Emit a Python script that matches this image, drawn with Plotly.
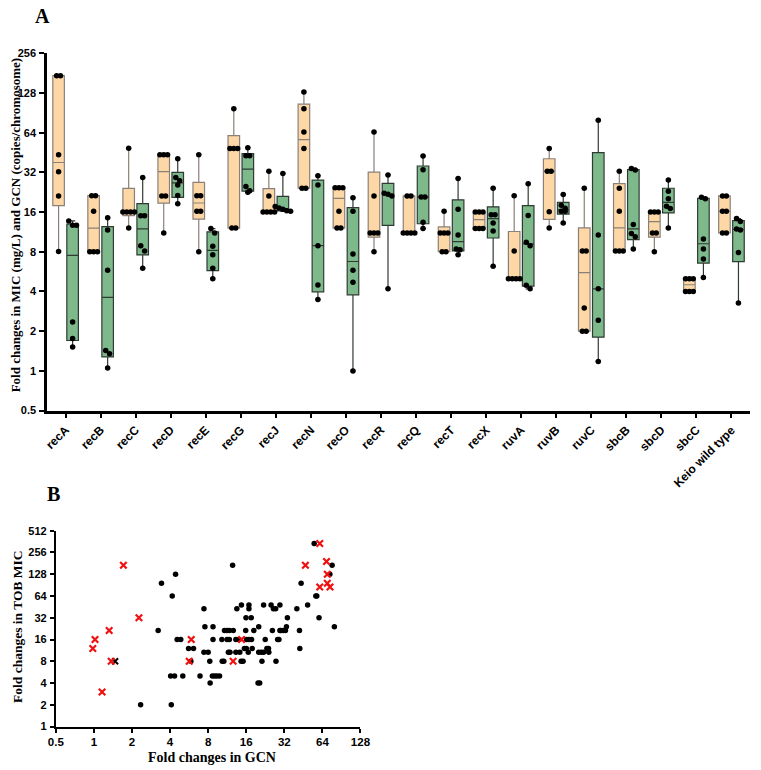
import numpy as np
import plotly.graph_objects as go

# ---------------- Panel A data ----------------
genes = ["recA", "recB", "recC", "recD", "recE", "recG", "recJ", "recN", "recO", "recR",
         "recQ", "recT", "recX", "ruvA", "ruvB", "ruvC", "sbcB", "sbcD", "sbcC", "Keio wild type"]

mic_fold = [
    [173, 173, 43.6, 32.4, 21.2, 8.05],      # recA
    [21.3, 21.3, 16.2, 8, 8, 8],             # recB
    [48.8, 16, 16, 16, 16, 12.1],            # recC
    [43.6, 43.6, 43.6, 21.2, 21.2, 11.1],    # recD
    [43.6, 21.3, 21.3, 16.2, 16.2, 8],       # recE
    [97, 48.6, 48.6, 48.6, 12.1, 12.1],      # recG
    [32.6, 21.2, 16, 16, 16, 16],            # recJ
    [130, 97, 64.8, 48.6, 24.3, 24.3],       # recN
    [24.5, 24.5, 24.5, 16.2, 12.1, 12.1],    # recO
    [64.8, 21.2, 11.1, 11.1, 11.1, 8],       # recR
    [21.2, 21.2, 11.1, 11.1, 11.1, 11.1],    # recQ
    [16.2, 11.1, 11.1, 11.1, 8, 8],          # recT
    [16, 16, 16, 12, 12, 12],                # recX
    [21.3, 8.1, 5, 5, 5, 5],                 # ruvA
    [48.6, 32.6, 32.6, 16.1, 12.1],          # ruvB
    [24.3, 8.1, 8.1, 3.0, 2, 2],             # ruvC
    [32.6, 24.2, 16.2, 8.1, 8.1, 8.1],       # sbcB
    [16, 16, 16, 11.1, 11.1, 8],             # sbcD
    [5, 5, 5, 4, 4, 4],                      # sbcC
    [21.2, 21.2, 16.2, 16.2, 11.1, 11.1],    # Keio wild type
]

gcn_fold = [
    [13.7, 12.7, 12.7, 2.35, 1.76, 1.52],    # recA
    [14.5, 11.7, 5.8, 1.43, 1.35, 1.05],     # recB
    [29.2, 15, 15, 8.9, 8.1, 6.0],           # recC
    [40.5, 29.2, 27.6, 25.7, 21.4, 18.5],    # recD
    [12, 11.1, 8.8, 7.6, 6, 5],              # recE
    [49.2, 42.8, 42.8, 25, 23.2, 22.6],      # recG
    [31.4, 17.6, 17.2, 16.8, 16.4, 16.2],    # recJ
    [30.2, 25.7, 8.9, 4.48, 3.47],           # recN
    [20.5, 16.2, 7.7, 5.8, 4.7, 1.0],        # recO
    [30.6, 22.2, 21.8, 21.2, 4.2],           # recR
    [42.6, 33.5, 20.8, 20.8, 13.4, 12.0],    # recQ
    [28.8, 16.8, 10.7, 8.4, 8.3, 7.6],       # recT
    [24.2, 15.3, 15.3, 13.2, 11.5, 6.2],     # recX
    [26.2, 15.1, 9.45, 8.9, 4.46, 4.19],     # ruvA
    [21.7, 18, 17.1, 16.2, 16.2, 13.2],      # ruvB
    [79.6, 10.7, 4.19, 2.42, 1.18],          # ruvC
    [34.3, 33.3, 12.9, 11.0, 10.4, 8.4],     # sbcB
    [28, 23, 20.2, 17.7, 17, 12.1],          # sbcD
    [20.7, 20.2, 10, 8.4, 7.05, 5.1],        # sbcC
    [14.3, 13.6, 11.9, 11.7, 7.9, 3.27],     # Keio wild type
]

y_ticks_a = [0.5, 1, 2, 4, 8, 16, 32, 64, 128, 256]

# ---------------- Panel B data ----------------
black_gcn = [55.1,
             12.49, 76.4,
             4.42, 73.3,
             3.42, 43.45,
             4.16, 56.8, 57.8,
             14.66, 16.81, 21.95, 25.16, 29.54, 48.9,
             7.41, 13.49, 16.81, 26.23, 27.34, 40.2,
             15.93, 17.52, 33.85, 60.2,
             7.54, 8.74, 20.08, 33.26, 79.6,
             3.22, 10.77, 11.29, 11.77, 12.64, 15.84, 18.37, 25.76, 29.54, 30.06, 31.34, 32.67, 42.17,
             4.55, 4.86, 8.74, 10.27, 11.29, 11.77, 13.25, 14.07, 16.12, 16.81, 17.62, 22.61, 28.34, 29.02,
             5.6, 6.13, 15.47, 16.03, 17.83, 23.3, 24.0, 42.43,
             7.41, 8.0, 11.56, 11.91, 13.25, 14.23, 16.6, 20.08, 21.06, 21.95, 24.14,
             5.84, 8.24, 10.33, 10.64, 14.57, 15.11, 21.3, 27.5,
             4.04, 4.34, 5.04, 6.9, 8.64, 9.0, 9.39, 9.85,
             8.29, 19.84, 20.44,
             2.34, 4.09]
black_mic = [341,
             170.7, 170.7,
             128, 128,
             96, 96,
             64, 64, 64,
             48, 48, 48, 48, 48, 48,
             42.7, 42.7, 42.7, 42.7, 42.7, 42.7,
             32, 32, 32, 32,
             24, 24, 24, 24, 24,
             21.3, 21.3, 21.3, 21.3, 21.3, 21.3, 21.3, 21.3, 21.3, 21.3, 21.3, 21.3, 21.3,
             16, 16, 16, 16, 16, 16, 16, 16, 16, 16, 16, 16, 16, 16,
             12, 12, 12, 12, 12, 12, 12, 12,
             10.7, 10.7, 10.7, 10.7, 10.7, 10.7, 10.7, 10.7, 10.7, 10.7, 10.7,
             8, 8, 8, 8, 8, 8, 8, 8,
             5, 5, 5, 5, 5, 5, 5, 5,
             4, 4, 4,
             2, 2]

red_gcn = [0.98, 1.02, 1.16, 1.32, 1.37, 1.71, 2.27, 5.67, 5.88, 12.6, 14.7,
           47, 61, 61, 69, 70, 70, 73.5]
red_mic = [12, 16, 3, 21.3, 8, 170.7, 32, 8, 16, 8, 16,
           170.7, 341, 85.3, 192, 128, 96, 85.3]

blackx_gcn = [1.47]
blackx_mic = [8]

x_ticks_b = [0.5, 1, 2, 4, 8, 16, 32, 64, 128]
y_ticks_b = [1, 2, 4, 8, 16, 32, 64, 128, 256, 512]

# ---------------- helpers ----------------
def box_stats(vals):
    v = np.sort(np.asarray(vals, dtype=float))
    q1, med, q3 = np.percentile(v, [25, 50, 75], method="weibull")
    return q1, med, q3, v.min(), v.max()


def swarm(vals, center, step=0.11, tol=0.14):
    lv = np.log2(np.asarray(vals, dtype=float))
    order = np.argsort(-lv)
    xs = np.zeros(len(vals))
    clusters = []
    for i in order:
        if clusters and abs(lv[clusters[-1][0]] - lv[i]) < tol:
            clusters[-1].append(i)
        else:
            clusters.append([i])
    for c in clusters:
        k = len(c)
        for j, i in enumerate(c):
            xs[i] = center + (j - (k - 1) / 2) * step
    return xs


fig = go.Figure()

OFF = 0.2
BW = 0.33
series = [(mic_fold, -OFF, "#FDD8A6", "#8a8078"), (gcn_fold, OFF, "#7DB98B", "#2f3a32")]
for data, off, fill, lc in series:
    stats = [box_stats(v) for v in data]
    fig.add_trace(go.Box(
        x=[i + off for i in range(len(genes))],
        q1=[s[0] for s in stats], median=[s[1] for s in stats], q3=[s[2] for s in stats],
        lowerfence=[s[3] for s in stats], upperfence=[s[4] for s in stats],
        width=BW, fillcolor=fill, line=dict(color=lc, width=1.2), whiskerwidth=0.45,
        boxpoints=False, hoverinfo="skip", xaxis="x", yaxis="y"))

px_all, py_all = [], []
for data, off, _, _ in series:
    for i, vals in enumerate(data):
        xs = swarm(vals, i + off)
        px_all.extend(xs.tolist())
        py_all.extend(vals)
fig.add_trace(go.Scatter(x=px_all, y=py_all, mode="markers",
                         marker=dict(color="black", size=5.5),
                         xaxis="x", yaxis="y", hoverinfo="skip"))

# Panel B
fig.add_trace(go.Scatter(x=black_gcn, y=black_mic, mode="markers",
                         marker=dict(color="black", size=5.5),
                         xaxis="x2", yaxis="y2"))
fig.add_trace(go.Scatter(x=blackx_gcn, y=blackx_mic, mode="markers",
                         marker=dict(color="black", size=6, symbol="x-thin", line=dict(width=2, color="black")),
                         xaxis="x2", yaxis="y2"))
fig.add_trace(go.Scatter(x=red_gcn, y=red_mic, mode="markers",
                         marker=dict(color="#F01010", size=6.5, symbol="x-thin",
                                     line=dict(width=2.2, color="#F01010")),
                         xaxis="x2", yaxis="y2"))

W, H = 761, 770
sans = "Liberation Sans"
serif = "Liberation Serif"

def fmt(v):
    return str(v) if v < 1 else str(int(v))

axis_common = dict(showline=True, linecolor="black", ticks="outside", tickcolor="black",
                   showgrid=False, zeroline=False, mirror=False)

fig.update_layout(
    width=W, height=H, margin=dict(l=0, r=0, t=0, b=0),
    paper_bgcolor="white", plot_bgcolor="white", showlegend=False, boxmode="overlay",
    xaxis=dict(domain=[40 / W, 760 / W], range=[-0.529, 19.53], anchor="y",
               tickvals=list(range(len(genes))), ticktext=genes, tickangle=-45,
               linewidth=2.5, ticklen=5, tickwidth=2,
               tickfont=dict(family=sans, size=12, color="black", weight="bold"), **axis_common),
    yaxis=dict(domain=[1 - 411 / H, 1 - 48 / H], type="log", anchor="x",
               range=[np.log10(0.5), np.log10(256)],
               tickvals=y_ticks_a, ticktext=[fmt(v) for v in y_ticks_a],
               linewidth=2.5, ticklen=5, tickwidth=2, ticklabelstandoff=1,
               tickfont=dict(family=sans, size=11, color="black", weight="bold"), **axis_common),
    xaxis2=dict(domain=[49 / W, 361 / W], type="log", anchor="y2",
                range=[np.log10(0.5), np.log10(128)],
                tickvals=x_ticks_b, ticktext=[fmt(v) for v in x_ticks_b],
                linewidth=2, ticklen=4, tickwidth=1.5,
                tickfont=dict(family=sans, size=11.5, color="black", weight="bold"), **axis_common),
    yaxis2=dict(domain=[1 - 732 / H, 1 - 533 / H], type="log", anchor="x2",
                range=[0, np.log10(512)],
                tickvals=y_ticks_b, ticktext=[fmt(v) for v in y_ticks_b],
                linewidth=2, ticklen=4, tickwidth=1.5, ticklabelstandoff=1,
                tickfont=dict(family=sans, size=11, color="black", weight="bold"), **axis_common),
)

ann = [
    dict(text="A", x=35 / W, y=1 - 10 / H, font=dict(family=serif, size=20, color="black", weight="bold")),
    dict(text="B", x=47 / W, y=1 - 496 / H, font=dict(family=serif, size=20, color="black", weight="bold")),
    dict(text="Fold changes in MIC (mg/L) and GCN (copies/chromosome)", x=8 / W, y=1 - 222 / H,
         textangle=-90, font=dict(family=serif, size=13, color="black", weight="bold")),
    dict(text="Fold changes in TOB MIC", x=9 / W, y=1 - 630 / H,
         textangle=-90, font=dict(family=serif, size=13.5, color="black", weight="bold")),
    dict(text="Fold changes in GCN", x=209 / W, y=1 - 763 / H,
         font=dict(family=serif, size=14, color="black", weight="bold")),
]
for a in ann:
    fig.add_annotation(xref="paper", yref="paper", showarrow=False, xanchor="center", yanchor="middle", **a)

fig.write_html("out.html")
